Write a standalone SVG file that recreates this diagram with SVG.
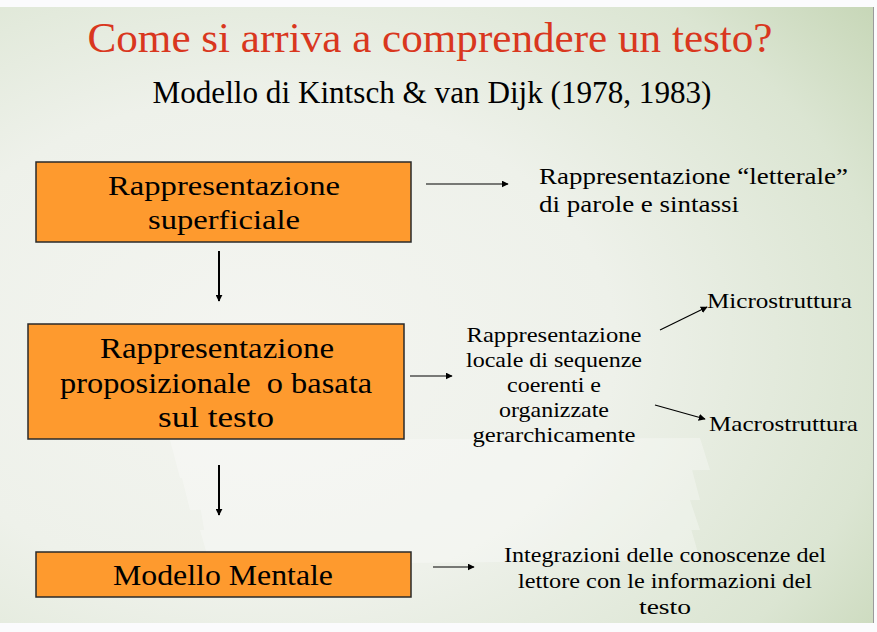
<svg xmlns="http://www.w3.org/2000/svg" width="877" height="632" viewBox="0 0 877 632">
<defs>
<radialGradient id="bg" cx="0.3" cy="0.55" r="0.9">
<stop offset="0" stop-color="#f4f5f1"/>
<stop offset="0.45" stop-color="#eef1ea"/>
<stop offset="0.8" stop-color="#dbe5d2"/>
<stop offset="1" stop-color="#c6d6b6"/>
</radialGradient>
<marker id="ah" viewBox="0 0 10 10" refX="9" refY="5" markerWidth="7" markerHeight="7" markerUnits="userSpaceOnUse" orient="auto">
<path d="M0,0 L10,5 L0,10 z" fill="#000"/>
</marker>
<style>
.box{fill:#fe9a2e;stroke:#2a2a2a;stroke-width:1.5}
.t{fill:#000}
.c{stroke:#000;stroke-width:1.2;fill:none;marker-end:url(#ah)}
.cv{stroke:#000;stroke-width:2;fill:none;marker-end:url(#ah)}
</style>
</defs>
<rect x="0" y="0" width="877" height="632" fill="#fbfbfd"/>
<rect x="0" y="7" width="873" height="616" fill="url(#bg)"/>
<line x1="873.5" y1="7" x2="873.5" y2="623" stroke="#9a9a9a" stroke-width="1"/>
<g id="paper" fill="#ffffff" opacity="0.3">
<polygon points="200,530 690,525 700,560 210,565"/>
<polygon points="180,470 690,462 700,500 190,510"/>
<polygon points="170,440 700,438 710,470 180,478"/>
<polygon points="200,505 690,500 700,530 205,535"/>
</g>
<g font-family="'Liberation Serif', 'Times New Roman', serif">
<text class="t" x="430" y="52" text-anchor="middle" font-size="42" style="fill:#d9371e" textLength="685" lengthAdjust="spacingAndGlyphs">Come si arriva a comprendere un testo?</text>
<text class="t" x="432" y="103" text-anchor="middle" font-size="31" textLength="559" lengthAdjust="spacingAndGlyphs">Modello di Kintsch &amp; van Dijk (1978, 1983)</text>
<g id="connectors">
<line class="c" x1="426" y1="184" x2="508" y2="184"/>
<line class="cv" x1="219" y1="251" x2="219" y2="301"/>
<line class="c" x1="410" y1="376" x2="452" y2="376"/>
<line class="c" x1="660" y1="330" x2="707" y2="307"/>
<line class="c" x1="655" y1="405" x2="705" y2="419"/>
<line class="cv" x1="219" y1="465" x2="219" y2="515"/>
<line class="c" x1="433" y1="567" x2="474" y2="567"/>
</g>
<g id="box1">
<rect class="box" x="36" y="162" width="375" height="80"/>
<text class="t" x="224" y="195" text-anchor="middle" font-size="28" textLength="232" lengthAdjust="spacingAndGlyphs">Rappresentazione</text>
<text class="t" x="224" y="229" text-anchor="middle" font-size="28" textLength="152" lengthAdjust="spacingAndGlyphs">superficiale</text>
</g>
<g id="box2">
<rect class="box" x="28" y="324" width="376" height="115"/>
<text class="t" x="217" y="358" text-anchor="middle" font-size="29" textLength="234" lengthAdjust="spacingAndGlyphs">Rappresentazione</text>
<text class="t" x="216" y="393" text-anchor="middle" font-size="29" textLength="312" lengthAdjust="spacingAndGlyphs" xml:space="preserve">proposizionale  o basata</text>
<text class="t" x="216" y="427" text-anchor="middle" font-size="29" textLength="116" lengthAdjust="spacingAndGlyphs">sul testo</text>
</g>
<g id="box3">
<rect class="box" x="36" y="552" width="375" height="45"/>
<text class="t" x="223" y="585" text-anchor="middle" font-size="29" textLength="220" lengthAdjust="spacingAndGlyphs">Modello Mentale</text>
</g>
<g id="note1">
<text class="t" x="539" y="184" font-size="24" textLength="309" lengthAdjust="spacingAndGlyphs">Rappresentazione “letterale”</text>
<text class="t" x="539" y="212" font-size="24" textLength="200" lengthAdjust="spacingAndGlyphs">di parole e sintassi</text>
</g>
<g id="note2">
<text class="t" x="554" y="342" text-anchor="middle" font-size="21" textLength="175" lengthAdjust="spacingAndGlyphs">Rappresentazione</text>
<text class="t" x="554" y="367" text-anchor="middle" font-size="21" textLength="176" lengthAdjust="spacingAndGlyphs">locale di sequenze</text>
<text class="t" x="554" y="392" text-anchor="middle" font-size="21" textLength="94" lengthAdjust="spacingAndGlyphs">coerenti e</text>
<text class="t" x="554" y="417" text-anchor="middle" font-size="21" textLength="110" lengthAdjust="spacingAndGlyphs">organizzate</text>
<text class="t" x="554" y="442" text-anchor="middle" font-size="21" textLength="163" lengthAdjust="spacingAndGlyphs">gerarchicamente</text>
</g>
<g id="micro">
<text class="t" x="707" y="308" font-size="21" textLength="145" lengthAdjust="spacingAndGlyphs">Microstruttura</text>
</g>
<g id="macro">
<text class="t" x="709" y="431" font-size="21" textLength="149" lengthAdjust="spacingAndGlyphs">Macrostruttura</text>
</g>
<g id="note3">
<text class="t" x="665" y="562" text-anchor="middle" font-size="22" textLength="322" lengthAdjust="spacingAndGlyphs">Integrazioni delle conoscenze del</text>
<text class="t" x="665" y="588" text-anchor="middle" font-size="22" textLength="294" lengthAdjust="spacingAndGlyphs">lettore con le informazioni del</text>
<text class="t" x="665" y="614" text-anchor="middle" font-size="22" textLength="52" lengthAdjust="spacingAndGlyphs">testo</text>
</g>
</g>
</svg>
